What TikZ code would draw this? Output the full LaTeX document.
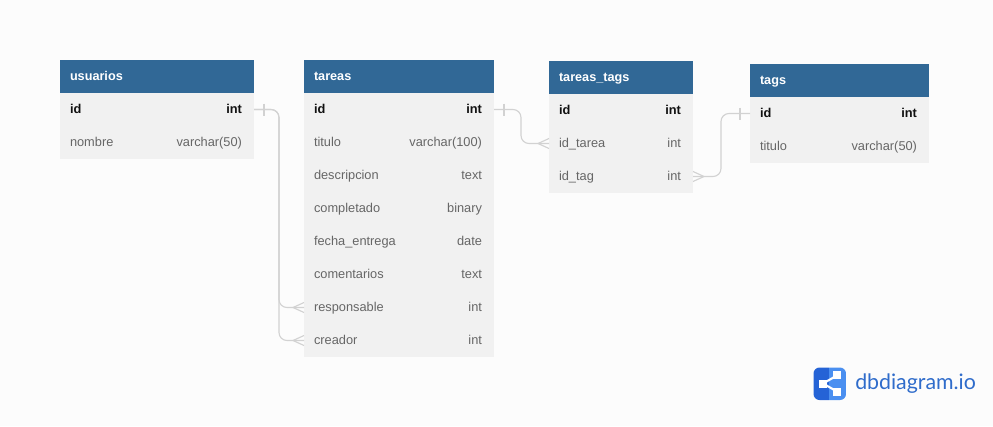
\documentclass[tikz,border=0pt]{standalone}
\usepackage{fontspec}
\setmainfont{Liberation Sans}
\newfontfamily\logofont{Lato}
\usetikzlibrary{positioning,calc}

\definecolor{pagebg}{HTML}{FCFCFC}
\definecolor{headblue}{HTML}{316896}
\definecolor{rowgray}{HTML}{F1F1F1}
\definecolor{keytext}{HTML}{111111}
\definecolor{fieldtext}{HTML}{666666}
\definecolor{linegray}{HTML}{D2D2D2}
\definecolor{logodark}{HTML}{2563D6}
\definecolor{logolight}{HTML}{4A8FF0}
\definecolor{logotext}{HTML}{2F6CCB}

\tikzset{
    tablehead/.style={anchor=north west, fill=headblue, text=white, font=\fontsize{9.5}{11}\selectfont\bfseries,
        outer sep=0pt, inner xsep=7.5pt, inner ysep=0pt, minimum height=24.75pt, text width=#1},
    fieldrow/.style={fill=rowgray, text=fieldtext, font=\fontsize{9.6}{11}\selectfont,
        outer sep=0pt, inner xsep=7.5pt, inner ysep=0pt, minimum height=24.75pt, text width=#1},
    keyrow/.style={fieldrow=#1, text=keytext, font=\fontsize{9.6}{11}\selectfont\bfseries},
    relline/.style={draw=linegray, line width=0.85pt},
}
\newcommand{\rowstrut}{\rule[-3.4pt]{0pt}{13.5pt}}
\newcommand{\fieldline}[2]{\rowstrut#1\hfill #2\hspace*{1.5pt}}
% many side, #2 is +1 or -1 for the side the lines leave on
\newcommand{\crowfoot}[2]{
    \draw[relline] ($(#1)+(#2*11,0)$) -- ($(#1)+(0,5)$);
    \draw[relline] ($(#1)+(#2*11,0)$) -- ($(#1)+(0,-5)$);
}
% one side, tick across the line
\newcommand{\onetick}[2]{
    \draw[relline] ($(#1)+(#2*10,6)$) -- ($(#1)+(#2*10,-6)$);
}

\begin{document}
\begin{tikzpicture}[x=0.75pt, y=0.75pt]
    \useasboundingbox[fill=pagebg] (0,0) rectangle (993,-426);

    % usuarios
    \node[tablehead=130.5pt] (usuarios) at (60,-60) {\rowstrut usuarios};
    \node[keyrow=130.5pt, below=0pt of usuarios] (usuarios-id) {\fieldline{id}{int}};
    \node[fieldrow=130.5pt, below=0pt of usuarios-id] (usuarios-nombre) {\fieldline{nombre}{varchar(50)}};

    % tareas
    \node[tablehead=127.5pt] (tareas) at (304,-60) {\rowstrut tareas};
    \node[keyrow=127.5pt, below=0pt of tareas] (tareas-id) {\fieldline{id}{int}};
    \foreach \fld/\txt/\kind [remember=\fld as \prev (initially id)] in {
        titulo/titulo/varchar(100), descripcion/descripcion/text, completado/completado/binary,
        fecha/fecha\_entrega/date, comentarios/comentarios/text, responsable/responsable/int, creador/creador/int}
        \node[fieldrow=127.5pt, below=0pt of tareas-\prev] (tareas-\fld) {\fieldline{\txt}{\kind}};

    % tareas_tags
    \node[tablehead=93pt] (tareastags) at (549,-61) {\rowstrut tareas\_tags};
    \node[keyrow=93pt, below=0pt of tareastags] (tareastags-id) {\fieldline{id}{int}};
    \node[fieldrow=93pt, below=0pt of tareastags-id] (tareastags-tarea) {\fieldline{id\_tarea}{int}};
    \node[fieldrow=93pt, below=0pt of tareastags-tarea] (tareastags-tag) {\fieldline{id\_tag}{int}};

    % tags
    \node[tablehead=119.25pt] (tags) at (750,-64) {\rowstrut tags};
    \node[keyrow=119.25pt, below=0pt of tags] (tags-id) {\fieldline{id}{int}};
    \node[fieldrow=119.25pt, below=0pt of tags-id] (tags-titulo) {\fieldline{titulo}{varchar(50)}};

    % relations
    \coordinate (busA) at (279,0);
    \coordinate (busB) at (521,0);
    \coordinate (busC) at (721,0);
    \draw[relline, rounded corners=6pt] (usuarios-id.east) -- (usuarios-id.east -| busA)
        -- (tareas-responsable.west -| busA) -- (tareas-responsable.west);
    \draw[relline, rounded corners=6pt] (usuarios-id.east) -- (usuarios-id.east -| busA)
        -- (tareas-creador.west -| busA) -- (tareas-creador.west);
    \draw[relline, rounded corners=6pt] (tareas-id.east) -- (tareas-id.east -| busB)
        -- (tareastags-tarea.west -| busB) -- (tareastags-tarea.west);
    \draw[relline, rounded corners=6pt] (tareastags-tag.east) -- (tareastags-tag.east -| busC)
        -- (tags-id.west -| busC) -- (tags-id.west);
    \onetick{usuarios-id.east}{1}
    \onetick{tareas-id.east}{1}
    \onetick{tags-id.west}{-1}
    \crowfoot{tareas-responsable.west}{-1}
    \crowfoot{tareas-creador.west}{-1}
    \crowfoot{tareastags-tarea.west}{-1}
    \crowfoot{tareastags-tag.east}{1}

    % logo
    \begin{scope}
        \clip[rounded corners=4.5pt] (813.5,-367.5) rectangle (846,-400);
        \fill[logodark] (813,-367) rectangle (829,-401);
        \fill[logolight] (829,-367) rectangle (847,-401);
    \end{scope}
    \draw[white, line width=1.6pt] (837,-375.5) -- (823,-383.5) -- (837,-391.5);
    \fill[white] (819,-379.5) rectangle (826.5,-387.5);
    \fill[white] (832.5,-371) rectangle (840.5,-379);
    \fill[white] (832.5,-388) rectangle (840.5,-396);
    \node[anchor=west, inner sep=0pt, text=logotext, font=\logofont\fontsize{16}{18}\selectfont] (logo) at (855,-384) {dbdiagram.io};
\end{tikzpicture}
\end{document}
